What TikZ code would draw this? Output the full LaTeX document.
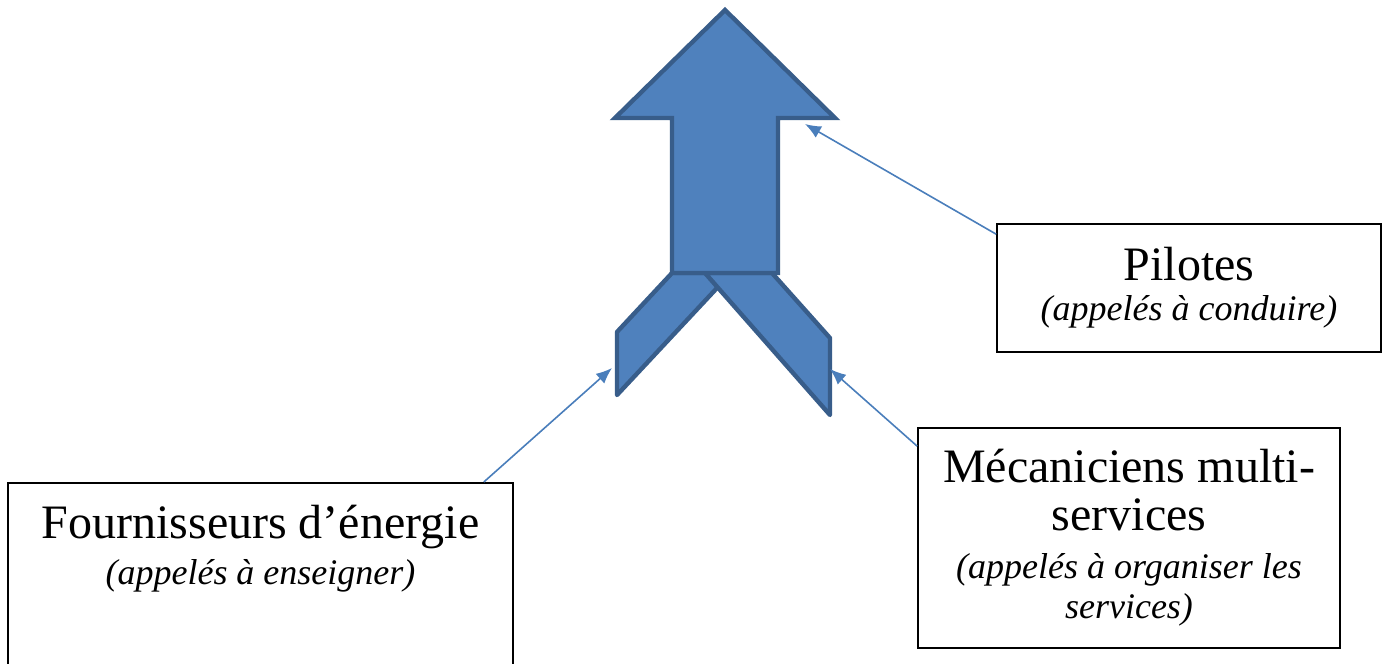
\documentclass[tikz,border=0pt]{standalone}
\usepackage{fontspec}
\setmainfont{Liberation Serif}
\usetikzlibrary{arrows.meta}
\definecolor{flecheblue}{RGB}{79,129,189}
\definecolor{flecheedge}{RGB}{56,93,138}
\definecolor{lienblue}{RGB}{74,126,187}
\newcommand{\role}[1]{{\itshape\fontsize{18}{20}\selectfont #1}}

\begin{document}
\begin{tikzpicture}[x=0.5pt,y=-0.5pt,
  acteur/.style={draw,line width=0.8pt,align=center,inner sep=0pt,font=\fontsize{24}{24}\selectfont},
  lien/.style={->,>={Latex[length=8pt,width=6.5pt]},line width=0.8pt,lienblue}]
\clip (0,0) rectangle (1383,664);
% les deux branches
\draw [line width=2.2pt,flecheedge,fill=flecheblue,line join=round] (672,273)--(617,332)--(617,395)--(731,273)--cycle;
\draw [line width=2.2pt,flecheedge,fill=flecheblue,line join=round] (705,273)--(772,273)--(830,338)--(830,415)--cycle;
% la fleche
\draw [line width=2.2pt,flecheedge,fill=flecheblue] (672,273)--(672,118)--(615,118)--(725,10)--(835,118)--(778,118)--(778,273)--cycle;
\coordinate (tete) at (805,124);
\coordinate (brancheG) at (612,368);
\coordinate (brancheD) at (830,369);
% les acteurs
\node[acteur,minimum width=192pt,minimum height=64pt] (pilotes) at (1189,288) {Pilotes\\[-4pt]\role{(appelés à conduire)}};
\node[acteur,minimum width=211pt,minimum height=110pt] (meca) at (1129,538) {Mécaniciens multi-\\services\\\role{(appelés à organiser les}\\[-4pt]\role{services)}};
\node[acteur,anchor=north,minimum width=252.5pt,inner ysep=11pt,text depth=90pt] (fournisseurs) at (260.5,482) {Fournisseurs d’énergie\\[-1pt]\role{(appelés à enseigner)}};
\draw [lien] ([yshift=-5.5pt]pilotes.north west) -- (tete);
\draw [lien] ([xshift=-15pt]fournisseurs.north east) -- (brancheG);
\draw [lien] ([yshift=-9.5pt]meca.north west) -- (brancheD);
\end{tikzpicture}
\end{document}
